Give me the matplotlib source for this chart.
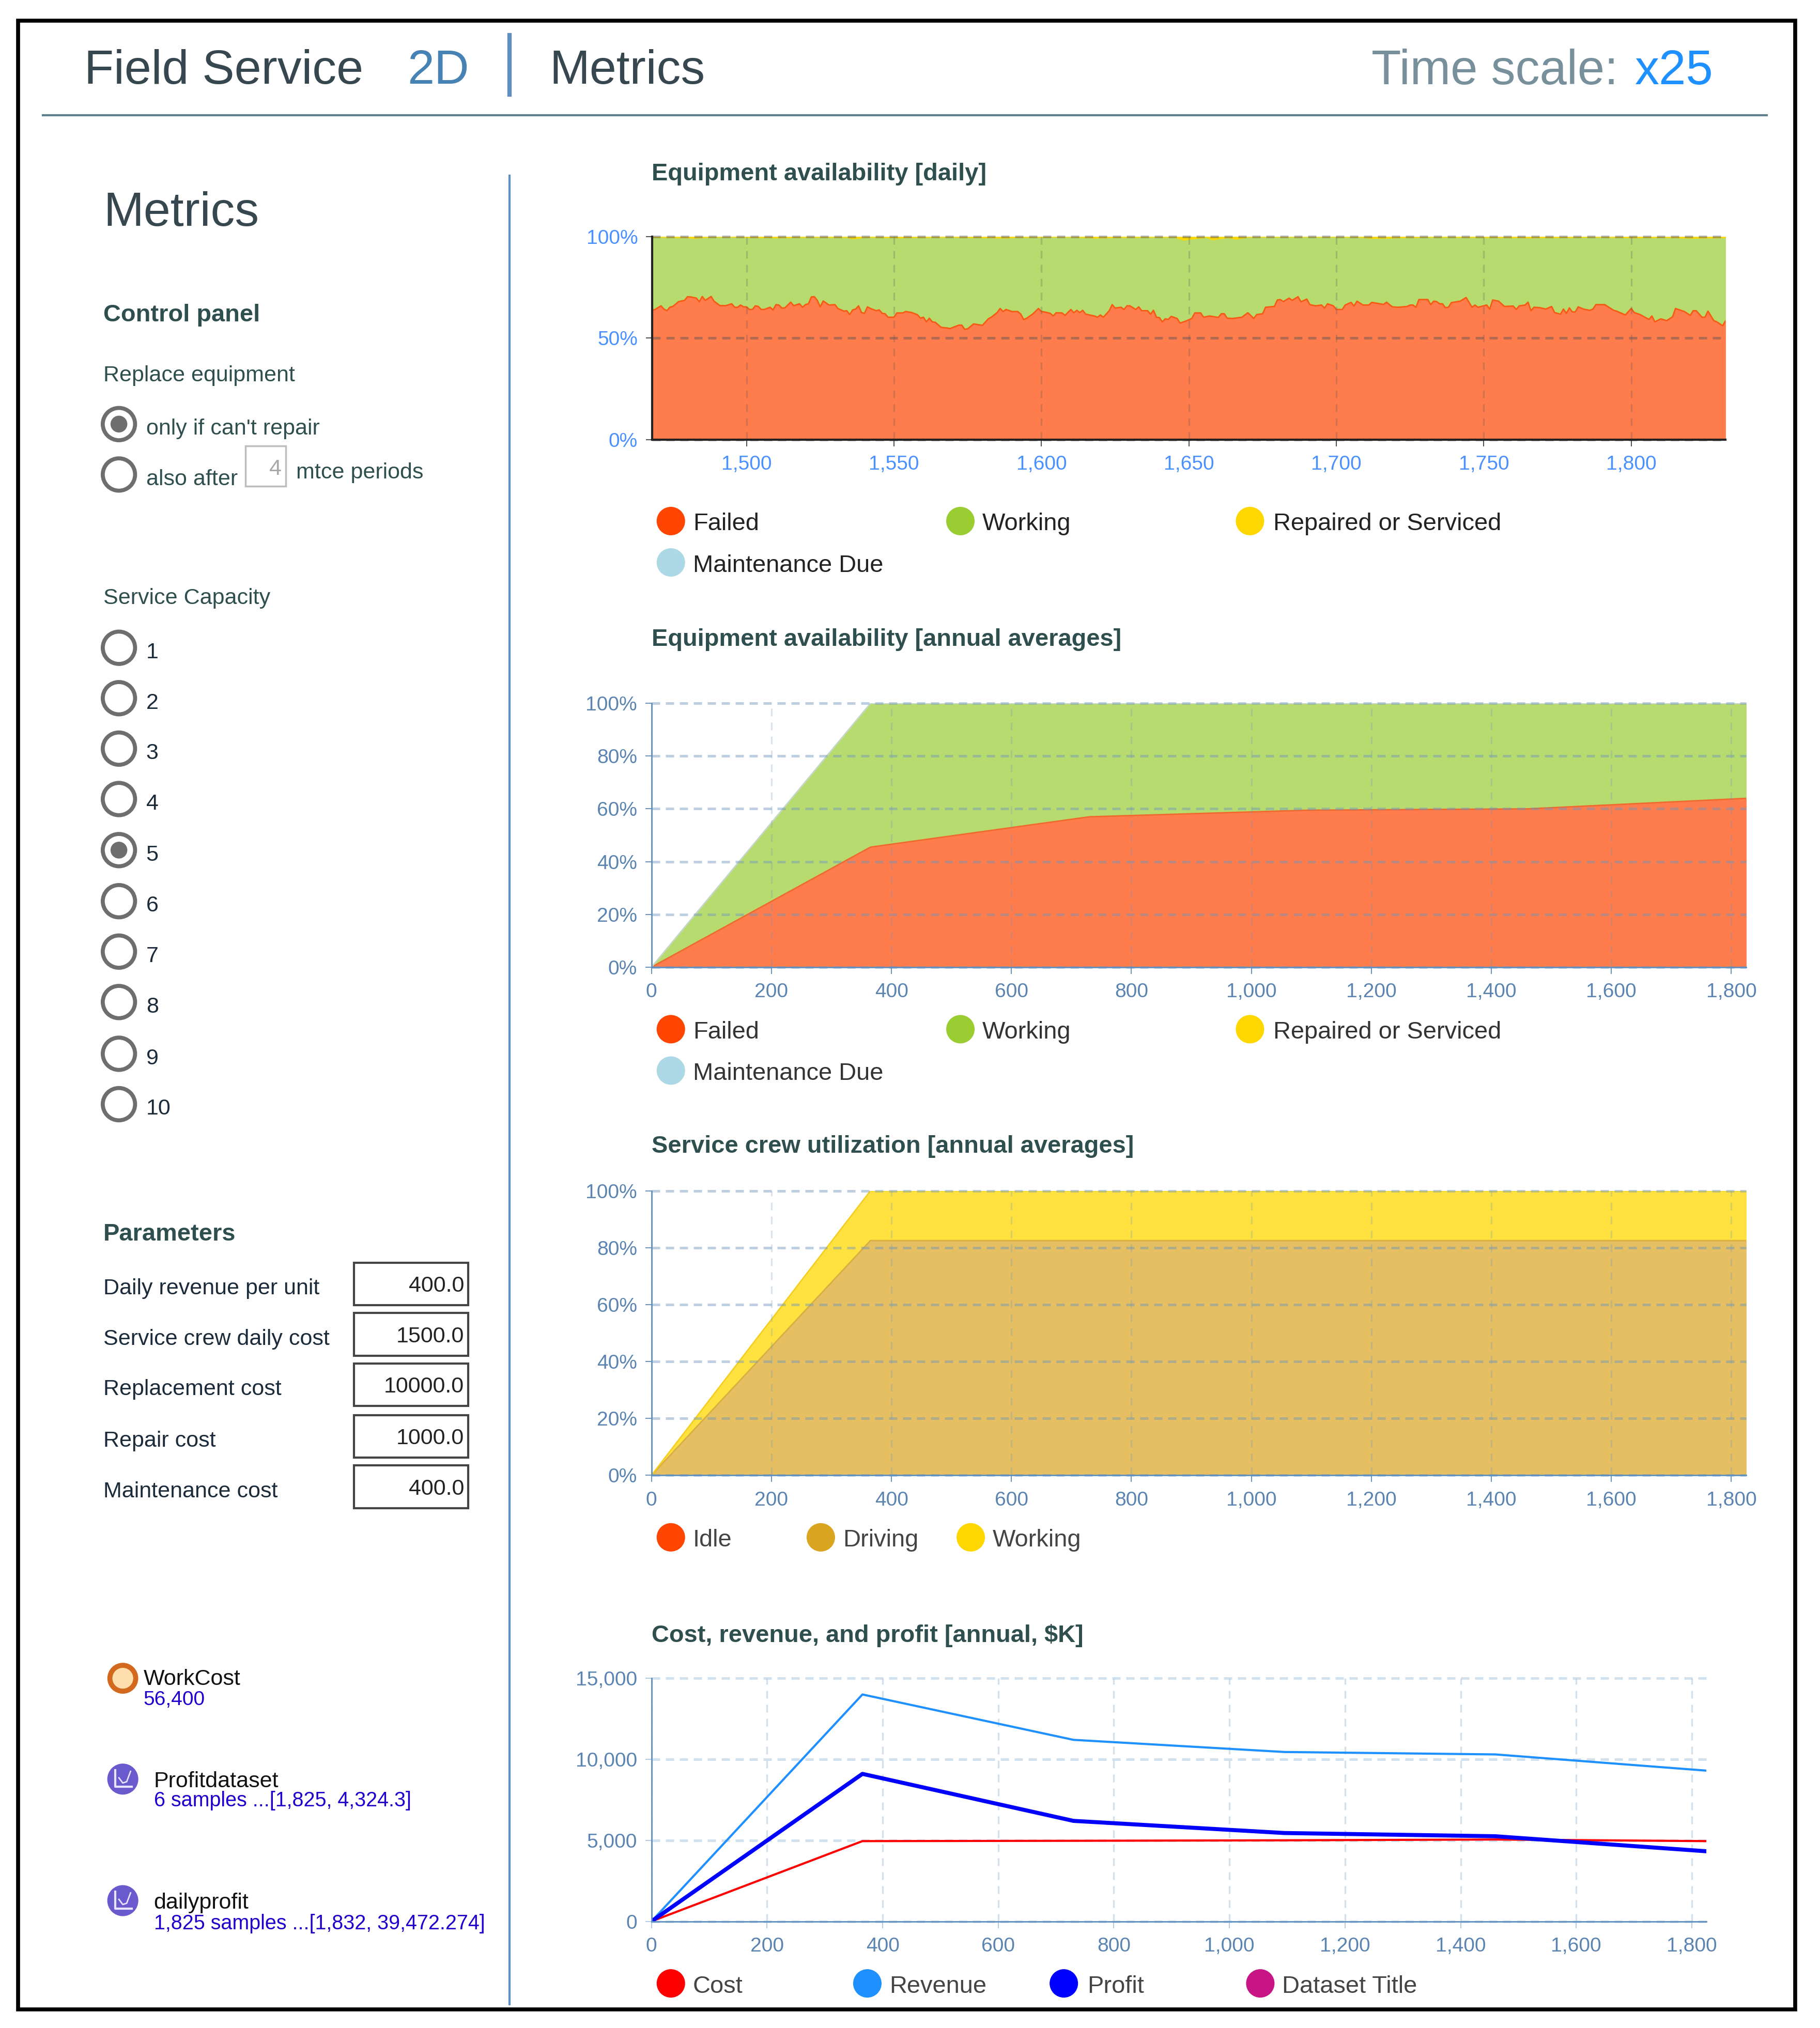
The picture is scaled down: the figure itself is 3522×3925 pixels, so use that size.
import matplotlib
matplotlib.use("Agg")
import matplotlib.pyplot as plt
from matplotlib.patches import Circle, Rectangle
from matplotlib.ticker import FuncFormatter

plt.rcParams['font.family'] = ['Liberation Sans', 'DejaVu Sans']

# -----------------------------------
# Data
# -----------------------------------

daily_days = [1468, 1469, 1471, 1472, 1473, 1474, 1475, 1477, 1479, 1480, 1481, 1483, 1484, 1485,
              1486, 1488, 1489, 1491, 1493, 1495, 1496, 1497, 1498, 1499, 1500, 1501, 1502, 1503,
              1504, 1505, 1506, 1508, 1509, 1510, 1511, 1512, 1513, 1515, 1516, 1518, 1519, 1520,
              1521, 1522, 1523, 1524, 1525, 1526, 1528, 1530, 1531, 1533, 1534, 1535, 1536, 1537,
              1538, 1539, 1540, 1541, 1542, 1544, 1545, 1546, 1547, 1548, 1550, 1551, 1553, 1554,
              1556, 1558, 1559,
              1560, 1561, 1562, 1563, 1564, 1566, 1568, 1569, 1572, 1573, 1574, 1575, 1577, 1580,
              1582, 1583, 1585, 1586, 1587, 1588, 1590, 1592, 1593, 1594, 1595, 1597, 1599, 1600,
              1601, 1603, 1604, 1605, 1607, 1608, 1610, 1611, 1612, 1613, 1614, 1615, 1618, 1619,
              1620, 1621, 1623, 1624, 1625, 1627, 1628, 1629, 1630, 1632, 1633, 1634, 1636, 1637,
              1638, 1639, 1640, 1641, 1642, 1643, 1644, 1646, 1647, 1649, 1651,
              1652, 1654, 1655, 1657, 1660, 1661, 1662, 1663, 1665, 1668, 1670, 1672, 1673, 1675,
              1676, 1679, 1680, 1681, 1682, 1684, 1685, 1687, 1688, 1690, 1691, 1693, 1695, 1696,
              1697, 1699, 1700, 1702, 1703, 1705, 1706, 1707, 1709, 1711, 1712, 1716, 1717, 1719,
              1721, 1724, 1725, 1726, 1727, 1728, 1731, 1732, 1733, 1734, 1735, 1736, 1737, 1738,
              1739, 1742,
              1744, 1746, 1747, 1748, 1751, 1752, 1753, 1755, 1757, 1760, 1761, 1762, 1764, 1765,
              1766, 1767, 1769, 1771, 1773, 1774, 1776, 1777, 1778, 1779, 1780, 1781, 1782, 1784,
              1786, 1787, 1788, 1791, 1794, 1795, 1798, 1800, 1801, 1803, 1806, 1807, 1808, 1810,
              1812, 1814, 1815, 1818, 1820, 1821, 1822, 1824, 1825, 1826, 1828, 1829, 1831, 1832]
daily_failed = [63.7, 64.1, 65.9, 64.3, 63.5, 65.2, 65.6, 68.0, 68.6, 70.4, 70.3, 69.7, 67.9, 70.5,
                68.6, 70.5, 68.2, 66.0, 66.0, 66.9, 65.2, 65.2, 66.3, 65.4, 65.4, 64.1, 64.1, 65.9,
                65.6, 64.1, 64.1, 65.2, 63.9, 66.5, 66.3, 64.8, 64.9, 67.7, 66.0, 66.9, 65.2, 66.5,
                66.9, 70.3, 70.4, 68.6, 65.4, 68.3, 66.3, 66.5, 64.6, 63.3, 63.5, 61.6, 63.9, 64.3,
                65.9, 62.6, 62.2, 65.4, 64.6, 63.5, 63.9, 62.2, 62.0, 60.3, 60.3, 62.4, 62.4, 63.1,
                62.6, 61.5, 59.8,
                60.3, 58.0, 59.8, 58.0, 57.8, 55.3, 55.0, 54.7, 56.4, 56.4, 54.3, 54.6, 57.0, 56.3,
                59.5, 60.3, 62.6, 64.6, 63.1, 64.1, 63.1, 63.1, 61.8, 59.1, 59.8, 61.8, 64.6, 63.1,
                62.9, 62.2, 60.9, 62.5, 62.4, 61.2, 64.1, 62.5, 63.7, 62.6, 63.7, 61.8, 60.9, 60.3,
                61.4, 60.3, 63.5, 66.5, 64.8, 65.2, 64.1, 65.9, 65.9, 64.1, 65.4, 63.5, 63.5, 61.8,
                63.7, 60.3, 60.1, 58.0, 59.5, 59.2, 60.7, 59.7, 57.4, 58.4, 59.7,
                62.4, 62.4, 60.3, 60.9, 60.2, 62.0, 62.0, 59.8, 59.7, 60.3, 62.5, 59.7, 61.6, 62.0,
                65.2, 65.6, 68.8, 69.0, 68.0, 69.7, 68.6, 70.4, 67.9, 69.2, 66.5, 65.9, 66.3, 64.8,
                66.9, 65.9, 64.1, 64.1, 66.3, 67.6, 65.8, 68.2, 66.3, 66.3, 67.6, 66.6, 67.7, 65.4,
                65.2, 65.6, 66.3, 66.3, 65.2, 69.0, 69.0, 66.5, 68.2, 68.0, 66.9, 66.9, 65.0, 65.2,
                67.5, 68.2,
                70.0, 65.2, 66.3, 65.2, 66.3, 64.3, 68.8, 68.2, 65.6, 65.8, 64.1, 65.9, 66.3, 67.7,
                63.5, 65.2, 65.0, 64.3, 65.6, 62.6, 61.8, 64.3, 62.2, 64.9, 62.9, 62.9, 65.4, 64.2,
                63.7, 64.3, 66.5, 66.5, 63.7, 63.3, 61.4, 64.6, 62.6, 61.6, 59.2, 60.9, 58.0, 59.5,
                58.6, 60.5, 64.6, 63.1, 61.2, 63.5, 63.5, 60.3, 60.3, 63.3, 58.6, 58.0, 56.1, 58.6]

# top edge of the working band; the sliver above it is "Repaired or Serviced"
working_top_days = [1468, 1480, 1482, 1486, 1492, 1500, 1510, 1522, 1534, 1536, 1541, 1552, 1558,
                    1570, 1588, 1592, 1610, 1618, 1627, 1645, 1648, 1656, 1658, 1663, 1666, 1670,
                    1690, 1708, 1712, 1730, 1752, 1765, 1790, 1801, 1812, 1820, 1832]
working_top = [99.6, 99.4, 99.0, 99.5, 99.7, 99.5, 99.3, 99.6, 99.5, 98.8, 99.6, 99.3, 99.5,
               99.6, 99.2, 99.5, 99.7, 99.2, 99.5, 99.6, 98.2, 99.5, 98.3, 99.4, 98.6, 99.6,
               99.7, 99.6, 99.0, 99.6, 99.5, 99.3, 99.6, 99.3, 99.5, 99.1, 99.4]

annual_days = [0, 365, 730, 1095, 1460, 1825]
annual_failed = [0, 45.5, 57, 59.5, 60, 64]
annual_total = [0, 100, 100, 100, 100, 100]

crew_driving = [0, 82.5, 82.5, 82.5, 82.5, 82.5]
crew_total = [0, 100, 100, 100, 100, 100]

cost = [0, 4950, 4970, 5000, 5050, 4950]
revenue = [0, 14000, 11200, 10450, 10300, 9300]
profit = [0, 9100, 6200, 5450, 5250, 4324.3]

daily_xticks = [1500, 1550, 1600, 1650, 1700, 1750, 1800]
annual_xticks = [0, 200, 400, 600, 800, 1000, 1200, 1400, 1600, 1800]

capacity_labels = ["1", "2", "3", "4", "5", "6", "7", "8", "9", "10"]
capacity_y = [501, 540, 579, 618, 657.5, 697, 736, 775, 815, 854]

param_labels = ["Daily revenue per unit", "Service crew daily cost", "Replacement cost",
                "Repair cost", "Maintenance cost"]
param_values = ["400.0", "1500.0", "10000.0", "1000.0", "400.0"]
param_y = [993, 1032, 1071, 1111, 1150]

# -----------------------------------
# Configuration
# -----------------------------------

W, H = 3522, 3925
REF_W, REF_H = 1408, 1568.5   # layout numbers below are in these units

DARK = "#2f4f4f"
STEEL = "#5f8fbf"
TICK_BLUE = "#5b84b1"
LINK_BLUE = "#2200cc"

fig = plt.figure(figsize=(W / 100, H / 100), dpi=100, facecolor="white")

bg = fig.add_axes([0, 0, 1, 1])
bg.set_xlim(0, REF_W)
bg.set_ylim(REF_H, 0)
bg.axis("off")


def txt(x, y, s, px, color=DARK, weight="normal", ha="left"):
    bg.text(x, y + px * 0.03 + 0.4, s, fontsize=px * 0.72, color=color, fontweight=weight, ha=ha,
            va="center")


def make_axes(left, right, top, bottom):
    return fig.add_axes([left / REF_W, 1 - bottom / REF_H,
                         (right - left) / REF_W, (bottom - top) / REF_H])


def style_axes(ax, xticks, yticks, tick_color, axis_color, grid_color, halpha, valpha, yfmt,
               axis_lw=2.0):
    ax.set_xticks(xticks)
    ax.set_yticks(yticks)
    ax.xaxis.set_major_formatter(FuncFormatter(lambda v, p: f"{int(v):,}"))
    ax.yaxis.set_major_formatter(FuncFormatter(yfmt))
    ax.tick_params(axis="both", labelsize=39 * 0.72, labelcolor=tick_color, color=grid_color,
                   length=9, width=1.5, pad=11)
    ax.tick_params(axis="x", pad=13)
    for name in ["top", "right"]:
        ax.spines[name].set_visible(False)
    for name in ["left", "bottom"]:
        ax.spines[name].set_color(axis_color)
        ax.spines[name].set_linewidth(axis_lw)
        ax.spines[name].set_zorder(6)
    ax.set_axisbelow(False)
    ax.grid(axis="y", color=grid_color, alpha=halpha, linewidth=3.6,
            linestyle=(0, (3.2, 2.2)), clip_on=False)
    ax.grid(axis="x", color=grid_color, alpha=valpha, linewidth=2.4,
            linestyle=(0, (4.5, 3.6)))
    ax.patch.set_alpha(0)


def legend(y, items):
    for cx, tx, label, color, tcolor in items:
        bg.add_patch(Circle((cx, y), 11, facecolor=color, edgecolor="none"))
        txt(tx, y + 0.6, label, 47, color=tcolor)


def radio(y, checked=False):
    bg.add_patch(Circle((92, y), 12.5, facecolor="white", edgecolor="#6e6e6e", linewidth=5.6))
    if checked:
        bg.add_patch(Circle((92, y), 6.5, facecolor="#6e6e6e", edgecolor="none"))


def chart_icon(y):
    bg.add_patch(Circle((95, y), 12, facecolor="#6a5acd", edgecolor="none"))
    bg.plot([89, 89, 102], [y - 7, y + 6, y + 6], color="#e8e4ff", lw=3)
    bg.plot([92, 95, 98, 101], [y - 1, y + 3, y + 2, y - 6], color="#e8e4ff", lw=2)


# -----------------------------------
# Frame and header
# -----------------------------------

bg.add_patch(Rectangle((14, 16), 1375, 1538, fill=False, edgecolor="black", linewidth=5.5))
bg.plot([33, 1367], [89, 89], color="#5f7f8c", lw=3)
bg.plot([394, 394], [27, 73], color=STEEL, lw=6)
bg.plot([394, 394], [136, 1550], color=STEEL, lw=3)

txt(65, 52, "Field Service", 93.5, color="#37474f")
txt(315, 52, "2D", 93.5, color="#4682b4")
txt(425, 52, "Metrics", 93.5, color="#37474f")
txt(1061, 52, "Time scale:", 94, color="#78909c")
txt(1265, 52, "x25", 94, color="#1e90ff")

# -----------------------------------
# Left panel
# -----------------------------------

txt(80, 162, "Metrics", 93.5, color="#37474f")
txt(80, 242, "Control panel", 47, weight="bold")
txt(80, 289, "Replace equipment", 43)

radio(328, checked=True)
radio(367)
txt(113, 330, "only if can't repair", 43)
txt(113, 369, "also after", 43)
bg.add_patch(Rectangle((190, 345), 31, 31, facecolor="white", edgecolor="#bdbdbd", linewidth=2.5))
txt(218, 361, "4", 43, color="#a8a8a8", ha="right")
txt(229, 364, "mtce periods", 43)

txt(80, 461, "Service Capacity", 43)
for label, y in zip(capacity_labels, capacity_y):
    radio(y, checked=label == "5")
    txt(113, y + 2, label, 43, color="#1c2b3a")

txt(80, 953, "Parameters", 47, weight="bold")
for label, value, y in zip(param_labels, param_values, param_y):
    txt(80, y + 2, label, 43, color="#1c2b3a")
    bg.add_patch(Rectangle((274, y - 16.5), 88, 33, facecolor="white", edgecolor="#444444",
                           linewidth=3))
    txt(359, y, value, 43, color="#222222", ha="right")

bg.add_patch(Circle((95, 1298), 10, facecolor="#ffdead", edgecolor="#d2691e", linewidth=7))
txt(111, 1297, "WorkCost", 43, color="#111111")
txt(111, 1313, "56,400", 39, color=LINK_BLUE)

chart_icon(1376)
txt(119, 1376, "Profitdataset", 43, color="#111111")
txt(119, 1391, "6 samples ...[1,825, 4,324.3]", 39.5, color=LINK_BLUE)

chart_icon(1470)
txt(119, 1470, "dailyprofit", 43, color="#111111")
txt(119, 1486, "1,825 samples ...[1,832, 39,472.274]", 39.5, color=LINK_BLUE)

# -----------------------------------
# Equipment availability [daily]
# -----------------------------------

txt(504, 133, "Equipment availability [daily]", 47, weight="bold")
ax1 = make_axes(504.5, 1335, 183, 340)
ax1.fill_between(daily_days, 0, daily_failed, color="orangered", alpha=0.7, lw=0)
ax1.fill_between(daily_days, daily_failed, 100, color="yellowgreen", alpha=0.7, lw=0)
ax1.fill_between(working_top_days, working_top, 100, color="gold", lw=0)
ax1.plot(daily_days, daily_failed, color="#f75a12", lw=2.0)
ax1.set_xlim(1468, 1832)
ax1.set_ylim(0, 100)
style_axes(ax1, daily_xticks, [0, 50, 100], "#4a90ff", "#222222", "#555555", 0.45, 0.25,
           lambda v, p: f"{int(v)}%", axis_lw=3)
ax1.spines["left"].set_linewidth(3)
legend(403, [(519, 536, "Failed", "orangered", "#222222"),
             (743, 760, "Working", "yellowgreen", "#222222"),
             (967, 985, "Repaired or Serviced", "gold", "#222222")])
legend(435, [(519, 536, "Maintenance Due", "lightblue", "#222222")])

# -----------------------------------
# Equipment availability [annual averages]
# -----------------------------------

txt(504, 493, "Equipment availability [annual averages]", 47, weight="bold")
ax2 = make_axes(504, 1351, 544, 748)
ax2.fill_between(annual_days, 0, annual_failed, color="orangered", alpha=0.7, lw=0)
ax2.fill_between(annual_days, annual_failed, annual_total, color="yellowgreen", alpha=0.7, lw=0)
ax2.plot(annual_days, annual_failed, color="#ee6a2e", lw=2)
ax2.plot(annual_days, annual_total, color="#c5d8c8", lw=2)
ax2.set_xlim(0, 1825)
ax2.set_ylim(0, 100)
style_axes(ax2, annual_xticks, [0, 20, 40, 60, 80, 100], TICK_BLUE, STEEL, "#6f96bd", 0.45, 0.25,
           lambda v, p: f"{int(v)}%")
legend(796, [(519, 536, "Failed", "orangered", "#333333"),
             (743, 760, "Working", "yellowgreen", "#333333"),
             (967, 985, "Repaired or Serviced", "gold", "#333333")])
legend(828, [(519, 536, "Maintenance Due", "lightblue", "#333333")])

# -----------------------------------
# Service crew utilization [annual averages]
# -----------------------------------

txt(504, 885, "Service crew utilization [annual averages]", 47, weight="bold")
ax3 = make_axes(504, 1351, 921, 1141)
ax3.fill_between(annual_days, 0, crew_driving, color="goldenrod", alpha=0.7, lw=0)
ax3.fill_between(annual_days, crew_driving, crew_total, color="gold", alpha=0.75, lw=0)
ax3.plot(annual_days, crew_driving, color="#d8ae40", lw=2)
ax3.plot(annual_days, crew_total, color="#f5cf20", lw=2)
ax3.set_xlim(0, 1825)
ax3.set_ylim(0, 100)
style_axes(ax3, annual_xticks, [0, 20, 40, 60, 80, 100], TICK_BLUE, STEEL, "#6f96bd", 0.45, 0.25,
           lambda v, p: f"{int(v)}%")
legend(1189, [(519, 536, "Idle", "orangered", "#444444"),
              (635, 652, "Driving", "goldenrod", "#444444"),
              (751, 768, "Working", "gold", "#444444")])

# -----------------------------------
# Cost, revenue, and profit [annual, $K]
# -----------------------------------

txt(504, 1263, "Cost, revenue, and profit [annual, $K]", 47, weight="bold")
ax4 = make_axes(504, 1320, 1298, 1486)
ax4.plot(annual_days, cost, color="red", lw=3, zorder=3)
ax4.plot(annual_days, revenue, color="dodgerblue", lw=3, zorder=3)
ax4.plot(annual_days, profit, color="blue", lw=5.6, zorder=3)
ax4.set_xlim(0, 1825)
ax4.set_ylim(0, 15000)
style_axes(ax4, annual_xticks, [0, 5000, 10000, 15000], TICK_BLUE, STEEL, "#b5cde3", 0.6, 0.6,
           lambda v, p: f"{int(v):,}")
legend(1534, [(519, 536, "Cost", "red", "#444444"),
              (671, 688, "Revenue", "dodgerblue", "#444444"),
              (823, 841, "Profit", "blue", "#444444"),
              (975, 992, "Dataset Title", "mediumvioletred", "#444444")])

fig.savefig("out.png", dpi=100)
